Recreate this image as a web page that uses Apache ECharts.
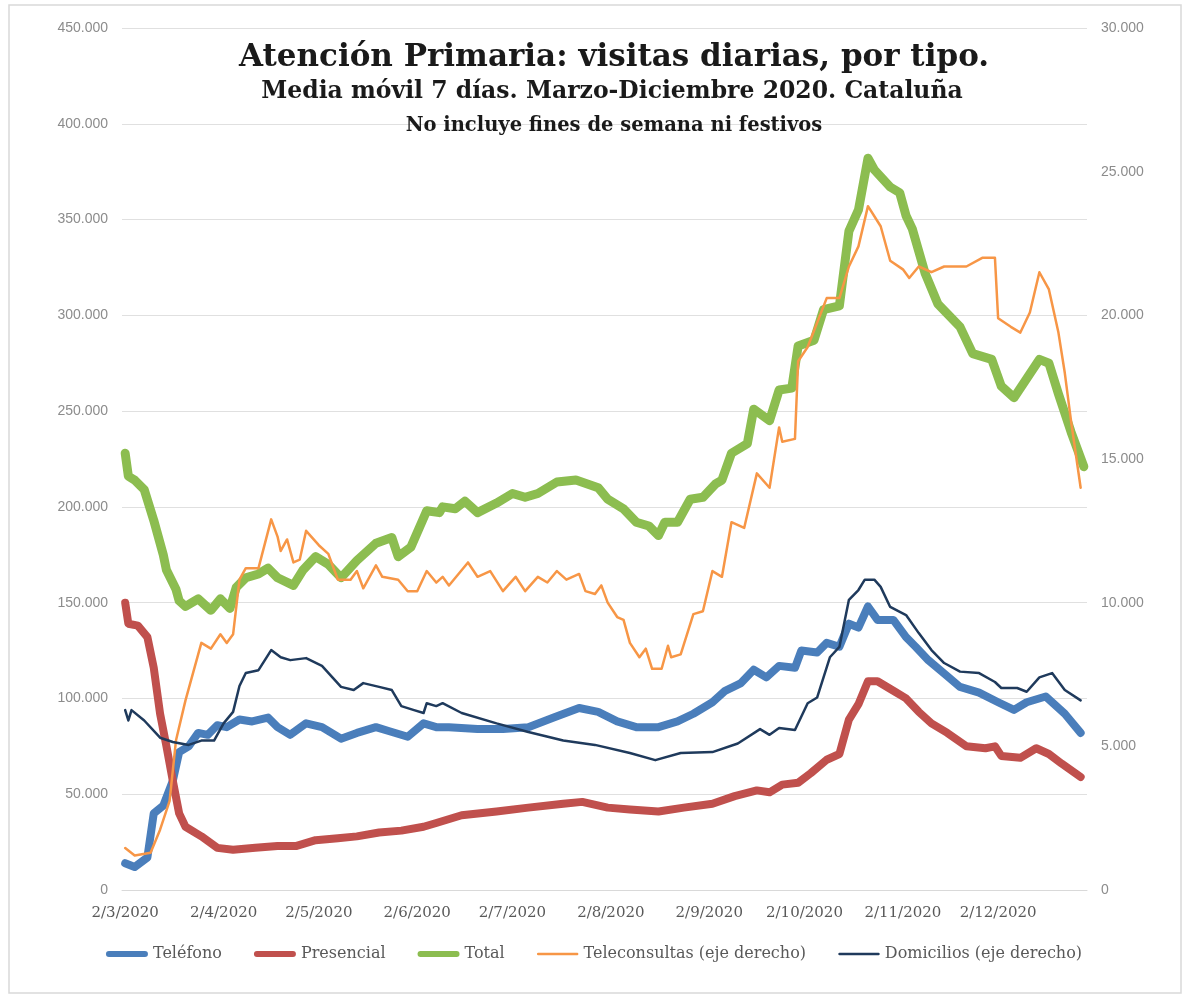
<!DOCTYPE html>
<html>
<head>
<meta charset="utf-8">
<script src="https://cdn.jsdelivr.net/npm/echarts@6/dist/echarts.min.js"></script>
<style>html,body{margin:0;padding:0;background:#fff;}#c{width:1188px;height:996px;}</style>
</head>
<body>
<div id="c"></div>
<script>
// Day offsets are days since 2 March 2020.
// Left-axis series in thousands of visits, right-axis series in thousands.
const telefonoDays = [0,3,7,9,12,15,17,20,23,26,29,32,36,40,45,48,52,57,62,68,73,79,83,89,94,98,102,111,119,127,135,143,149,155,161,168,174,179,185,189,194,198,202,206,211,213,218,221,225,228,231,234,237,242,246,249,253,258,263,269,275,280,284,290,292,296,301];
const telefonoK    = [14,12,17,40,44,57,72,75,82,81,86,85,89,88,90,85,81,87,85,79,82,85,83,80,87,85,85,84,84,85,90,95,93,88,85,85,88,92,98,104,108,115,111,117,116,125,124,129,127,139,137,148,141,141,132,127,120,113,106,103,98,94,98,101,98,92,82];

const presencialDays = [0,1,4,7,9,11,13,15,17,19,24,29,34,41,48,54,60,67,73,80,87,94,98,106,117,127,138,144,152,159,168,176,185,192,199,203,207,212,216,221,225,228,231,234,237,242,246,250,254,259,265,271,274,276,282,287,291,295,301];
const presencialK    = [150,139,138,132,116,92,75,57,40,33,28,22,21,22,23,23,26,27,28,30,31,33,35,39,41,43,45,46,43,42,41,43,45,49,52,51,55,56,61,68,71,89,97,109,109,104,100,93,87,82,75,74,75,70,69,74,71,66,59];

const totalDays = [0,1,3,6,9,12,13,16,17,19,21,23,27,30,33,35,38,42,45,48,53,56,60,64,68,73,79,84,86,90,95,99,100,104,107,111,117,122,126,130,136,142,149,152,157,161,165,168,170,174,178,182,186,188,191,196,198,203,206,210,212,217,220,225,228,231,234,236,241,244,246,248,252,256,263,267,273,276,280,288,291,294,298,302];
const totalK    = [228,216,214,209,193,175,167,157,151,148,150,152,146,152,147,158,163,165,168,163,159,167,174,170,163,172,181,184,174,179,198,197,200,199,203,197,202,207,205,207,213,214,210,204,199,192,190,185,192,192,204,205,212,214,228,233,251,245,261,262,284,287,303,305,344,355,382,376,367,364,352,345,322,306,294,280,277,263,257,277,275,259,239,221];

const teleDays = [0,3,8,11,14,16,19,23,24,27,30,32,34,36,38,42,46,48,49,51,53,55,57,61,64,67,71,73,75,79,81,86,89,92,95,98,100,102,108,111,115,119,123,126,130,133,136,139,143,145,148,150,152,155,157,159,162,164,166,169,171,172,175,179,182,185,188,191,195,199,203,206,207,211,212,215,221,225,228,231,234,238,241,245,247,250,254,258,265,270,274,275,279,282,285,288,291,294,296,298,301];
const teleK    = [1.46,1.2,1.3,2.1,3.1,5.2,6.6,8.2,8.6,8.4,8.9,8.6,8.9,10.8,11.2,11.2,12.9,12.3,11.8,12.2,11.4,11.5,12.5,12.0,11.7,10.8,10.8,11.1,10.5,11.3,10.9,10.8,10.4,10.4,11.1,10.7,10.9,10.6,11.4,10.9,11.1,10.4,10.9,10.4,10.9,10.7,11.1,10.8,11.0,10.4,10.3,10.6,10.0,9.5,9.4,8.6,8.1,8.4,7.7,7.7,8.5,8.1,8.2,9.6,9.7,11.1,10.9,12.8,12.6,14.5,14.0,16.1,15.6,15.7,18.4,18.9,20.6,20.6,21.7,22.4,23.8,23.1,21.9,21.6,21.3,21.7,21.5,21.7,21.7,22.0,22.0,19.9,19.6,19.4,20.1,21.5,20.9,19.4,18.0,16.3,14.0];

const domiDays = [0,1,2,6,11,15,20,24,28,31,34,36,38,42,46,49,52,57,62,68,72,75,80,84,87,91,94,95,98,100,106,117,127,138,148,159,167,175,185,193,200,203,206,211,215,218,222,225,228,231,233,236,238,241,246,250,254,258,263,269,274,276,281,284,288,292,296,301];
const domiK    = [6.26,5.9,6.26,5.9,5.3,5.15,5.05,5.2,5.2,5.8,6.2,7.1,7.55,7.65,8.35,8.1,8.0,8.07,7.8,7.07,6.96,7.2,7.07,6.96,6.4,6.26,6.16,6.5,6.4,6.5,6.16,5.8,5.5,5.2,5.05,4.77,4.52,4.77,4.8,5.1,5.6,5.4,5.64,5.57,6.5,6.7,8.1,8.46,10.1,10.44,10.8,10.8,10.55,9.85,9.57,8.94,8.35,7.9,7.6,7.55,7.24,7.03,7.03,6.9,7.4,7.55,6.96,6.6];

const seriesNames = ['Teléfono','Presencial','Total','Teleconsultas (eje derecho)','Domicilios (eje derecho)'];
// x tick labels: 2nd day of each month, March..December 2020 (as day offsets)
const tickDays = [0,31,61,92,122,153,184,214,245,275];
const leftTicks = {min:0, max:450000, interval:50000};
const rightTicks = {min:0, max:30000, interval:5000};

function pairs(days, vals){ return days.map((d,i)=>[d, vals[i]*1000]); }
function fmt(v){ return String(v).replace(/\B(?=(\d{3})+(?!\d))/g,'.'); }
function dayLabel(v){ const d=new Date(2020, 2, 2 + Math.round(v)); return d.getDate()+'/'+(d.getMonth()+1)+'/'+d.getFullYear(); }

const chart = echarts.init(document.getElementById('c'));
const serif = 'DejaVu Serif';
const sans = 'Liberation Sans';
const colors = ['#4a7ebb','#c0504d','#8cbd50','#f79646','#1f3a5c'];
const thickIcon = 'path://M3,0H39A3,3 0 0 1 39,6H3A3,3 0 0 1 3,0Z';
const thinIcon = 'path://M0,0L0.01,0M0,6L0.01,6M1.5,1.8H40.5A1.2,1.2 0 0 1 40.5,4.2H1.5A1.2,1.2 0 0 1 1.5,1.8Z';

function lineSeries(name, data, color, width, yIdx, z){
  return {name, type:'line', data, yAxisIndex:yIdx, showSymbol:false, symbol:'none', smooth:false, z,
    lineStyle:{color, width, cap:'round', join:'round'}, itemStyle:{color}, animation:false};
}

chart.setOption({
  animation:false,
  backgroundColor:'#fff',
  graphic:[{type:'rect', shape:{x:9,y:5,width:1172,height:988}, style:{fill:'none', stroke:'#d9d9d9', lineWidth:1.5}, z:-10}],
  title:[
    {text:'Atención Primaria: visitas diarias, por tipo.', left:609, top:37, textAlign:'center',
      textStyle:{fontFamily:serif, fontWeight:'bold', fontSize:31, color:'#1a1a1a'}},
    {text:'Media móvil 7 días. Marzo-Diciembre 2020. Cataluña', left:607, top:75, textAlign:'center',
      textStyle:{fontFamily:serif, fontWeight:'bold', fontSize:23.5, color:'#1a1a1a'}},
    {text:'No incluye fines de semana ni festivos', left:609, top:111, textAlign:'center',
      textStyle:{fontFamily:serif, fontWeight:'bold', fontSize:19.5, color:'#1a1a1a'}}
  ],
  legend:{
    data:seriesNames.map((n,i)=>({name:n, icon:(i<3?thickIcon:thinIcon), itemStyle:{color:colors[i]}})),
    top:941, left:'center', itemGap:32, itemWidth:42, itemHeight:6,
    textStyle:{fontFamily:serif, fontSize:16, color:'#595959'}
  },
  grid:{left:122, right:101, top:28, bottom:106, containLabel:false},
  xAxis:{
    type:'value', min:-1, max:303,
    axisLine:{show:true, lineStyle:{color:'#d9d9d9'}},
    axisTick:{show:false},
    splitLine:{show:false},
    axisLabel:{
      customValues: tickDays,
      formatter: dayLabel,
      fontFamily:serif, fontSize:15, color:'#595959', margin:16, hideOverlap:false
    }
  },
  yAxis:[
    {type:'value', min:leftTicks.min, max:leftTicks.max, interval:leftTicks.interval,
      axisLine:{show:false}, axisTick:{show:false},
      splitLine:{lineStyle:{color:'#e0e0e0', width:1.2}},
      axisLabel:{formatter:fmt, fontFamily:sans, fontSize:14, color:'#8c8c8c', margin:14}},
    {type:'value', min:rightTicks.min, max:rightTicks.max, interval:rightTicks.interval,
      axisLine:{show:false}, axisTick:{show:false}, splitLine:{show:false},
      axisLabel:{formatter:fmt, fontFamily:sans, fontSize:14, color:'#8c8c8c', margin:14}}
  ],
  series:[
    lineSeries(seriesNames[0], pairs(telefonoDays, telefonoK), colors[0], 8, 0, 3),
    lineSeries(seriesNames[1], pairs(presencialDays, presencialK), colors[1], 8, 0, 3),
    lineSeries(seriesNames[2], pairs(totalDays, totalK), colors[2], 9, 0, 3),
    lineSeries(seriesNames[3], pairs(teleDays, teleK), colors[3], 2.5, 1, 4),
    lineSeries(seriesNames[4], pairs(domiDays, domiK), colors[4], 2.5, 1, 4)
  ]
});
</script>
</body>
</html>
